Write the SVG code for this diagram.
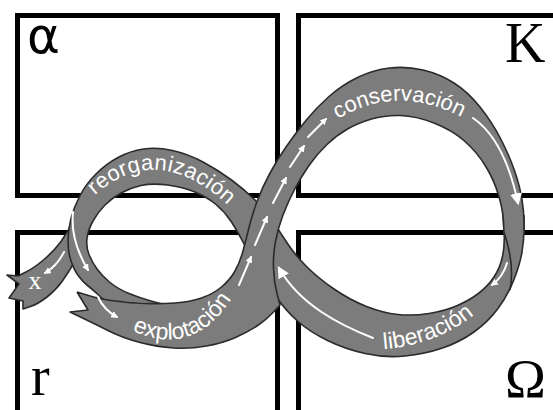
<svg xmlns="http://www.w3.org/2000/svg" width="553" height="410" viewBox="0 0 553 410">
<style>
.box{fill:none;stroke:#000;stroke-width:5}
.band{fill:#7c7c7c}
.edge{fill:none;stroke:#2b2b2b;stroke-width:1.6;stroke-linejoin:round}
.arr{fill:none;stroke:#fff;stroke-width:2;stroke-linecap:round}
.lbl{font-family:"Liberation Sans",Arial,sans-serif;fill:#fff}
.big{font-family:"Liberation Serif","Times New Roman",serif;fill:#000;font-size:56px}
</style>
<defs>
<marker id="ah" viewBox="0 0 10 10" refX="8" refY="5" markerWidth="7" markerHeight="7" markerUnits="userSpaceOnUse" orient="auto"><path d="M0,0 L10,5 L0,10 z" fill="#fff"/></marker>
<marker id="ahb" viewBox="0 0 10 10" refX="8" refY="5" markerWidth="12" markerHeight="12" markerUnits="userSpaceOnUse" orient="auto"><path d="M0,0 L10,5 L0,10 z" fill="#fff"/></marker>
<path id="tp-cons" d="M325,128 Q395,75 475,125"/>
<path id="tp-reorg" d="M85,205 Q155,130 238,215"/>
<path id="tp-expl" d="M115,320 C165,355 215,345 245,272"/>
<path id="tp-lib" d="M370,350 Q445,348 490,300"/>
</defs>

<g id="box-alpha"><rect class="box" x="17.5" y="15.5" width="260" height="180"/><text x="27" y="53" font-family="DejaVu Sans,sans-serif" font-size="50" fill="#000">α</text></g>
<g id="box-K"><rect class="box" x="298.5" y="15.5" width="270" height="180"/><text class="big" x="505" y="62">K</text></g>
<g id="box-r"><rect class="box" x="17.5" y="232.5" width="260" height="200"/><text class="big" x="31" y="395">r</text></g>
<g id="box-omega"><rect class="box" x="298.5" y="232.5" width="270" height="200"/><text class="big" x="505" y="397" style="font-size:55px">Ω</text></g>

<g id="cycle">
<path id="exit-x" class="band" stroke="#2b2b2b" stroke-width="1.6" stroke-linejoin="round" d="M78,210 L73,221 Q68,232 61,241.5 Q54,251 44,259.5 Q34,268 26,272 L18,276 L7,275 L19,284 L9,298 L23,301 L23,309 L30.5,306.5 Q38,304 47,297 Q56,290 62,281.5 Q68,273 73,264.5 L78,256 Z"/>
<path class="band" d="M503,215 L504,230 Q505,245 502.5,256.5 Q500,268 494,277 Q488,286 479,293 Q470,300 457.5,305.5 Q445,311 429,313.5 Q413,316 398,314.5 Q383,313 366.5,306.5 Q350,300 334,289 Q318,278 306.5,266.5 Q295,255 287.5,243.5 Q280,232 272.5,221 Q265,210 255,200 Q245,190 231.5,180 Q218,170 203,162 Q188,154 172.5,150.5 Q157,147 143.5,149 Q130,151 118,157.5 Q106,164 96,174 Q86,184 80,195.5 Q74,207 71,218.5 Q68,230 68,241 Q68,252 71,261 Q74,270 78.5,276 Q83,282 87.5,285.5 Q92,289 98,294.5 L104,300 L162,304 L151,301 Q140,298 129,293.5 Q118,289 110,282.5 Q102,276 97,269 Q92,262 89,254.5 Q86,247 87,238.5 Q88,230 93,221 Q98,212 105,205 Q112,198 121,193 Q130,188 141,185.5 Q152,183 167.5,185 Q183,187 195,192 Q207,197 216,204.5 Q225,212 231.5,222 Q238,232 243,242 Q248,252 256.5,266 Q265,280 275,295 Q285,310 297.5,321 Q310,332 327.5,340.5 Q345,349 365,353.5 Q385,358 405,356 Q425,354 442.5,348 Q460,342 474,332 Q488,322 498,308.5 Q508,295 514,279.5 Q520,264 522,252 Q524,240 524,227.5 L524,215 Z"/>
<path class="edge" d="M503,215 L504,230 Q505,245 502.5,256.5 Q500,268 494,277 Q488,286 479,293 Q470,300 457.5,305.5 Q445,311 429,313.5 Q413,316 398,314.5 Q383,313 366.5,306.5 Q350,300 334,289 Q318,278 306.5,266.5 Q295,255 287.5,243.5 Q280,232 272.5,221 Q265,210 255,200 Q245,190 231.5,180 Q218,170 203,162 Q188,154 172.5,150.5 Q157,147 143.5,149 Q130,151 118,157.5 Q106,164 96,174 Q86,184 80,195.5 Q74,207 71,218.5 Q68,230 68,241 Q68,252 71,261 Q74,270 78.5,276 Q83,282 87.5,285.5 Q92,289 98,294.5 L104,300 M524,215 L524,227.5 Q524,240 522,252 Q520,264 514,279.5 Q508,295 498,308.5 Q488,322 474,332 Q460,342 442.5,348 Q425,354 405,356 Q385,358 365,353.5 Q345,349 327.5,340.5 Q310,332 297.5,321 Q285,310 275,295 Q265,280 256.5,266 Q248,252 243,242 Q238,232 231.5,222 Q225,212 216,204.5 Q207,197 195,192 Q183,187 167.5,185 Q152,183 141,185.5 Q130,188 121,193 Q112,198 105,205 Q98,212 93,221 Q88,230 87,238.5 Q86,247 89,254.5 Q92,262 97,269 Q102,276 110,282.5 Q118,289 129,293.5 Q140,298 151,301 L162,304"/>
<path class="band" d="M77,292 L88.5,295.5 Q100,299 115,301 Q130,303 145,303.5 Q160,304 175,303 Q190,302 201.5,298 Q213,294 221.5,287 Q230,280 235,271 Q240,262 243,251 Q246,240 249,227.5 Q252,215 257,201.5 Q262,188 269.5,174 Q277,160 286,147 Q295,134 305.5,121 Q316,108 329,96.5 Q342,85 357.5,77.5 Q373,70 389.5,68 Q406,66 423,70 Q440,74 454,83 Q468,92 480,107 Q492,122 501,139.5 Q510,157 515,172 Q520,187 522,199.5 Q524,212 524,223 L524,234 L504,234 L503.5,222 Q503,210 498.5,195 Q494,180 485.5,166 Q477,152 464.5,141 Q452,130 434,123 Q416,116 400.5,115.5 Q385,115 371.5,119 Q358,123 347.5,129 Q337,135 327,144.5 Q317,154 309,165.5 Q301,177 294.5,189.5 Q288,202 283,215 Q278,228 275.5,241.5 Q273,255 273.5,268.5 Q274,282 277,293.5 L280,305 L273,312.5 Q266,320 257,326 Q248,332 235.5,337.5 Q223,343 206.5,346 Q190,349 173.5,348 Q157,347 140,342.5 Q123,338 109,331 Q95,324 82.5,318 L70,312 L88,310 Z"/>
<path class="edge" d="M77,292 L88.5,295.5 Q100,299 115,301 Q130,303 145,303.5 Q160,304 175,303 Q190,302 201.5,298 Q213,294 221.5,287 Q230,280 235,271 Q240,262 243,251 Q246,240 249,227.5 Q252,215 257,201.5 Q262,188 269.5,174 Q277,160 286,147 Q295,134 305.5,121 Q316,108 329,96.5 Q342,85 357.5,77.5 Q373,70 389.5,68 Q406,66 423,70 Q440,74 454,83 Q468,92 480,107 Q492,122 501,139.5 Q510,157 515,172 Q520,187 522,199.5 Q524,212 524,223 L524,234 M504,234 L503.5,222 Q503,210 498.5,195 Q494,180 485.5,166 Q477,152 464.5,141 Q452,130 434,123 Q416,116 400.5,115.5 Q385,115 371.5,119 Q358,123 347.5,129 Q337,135 327,144.5 Q317,154 309,165.5 Q301,177 294.5,189.5 Q288,202 283,215 Q278,228 275.5,241.5 Q273,255 273.5,268.5 Q274,282 277,293.5 L280,305 L273,312.5 Q266,320 257,326 Q248,332 235.5,337.5 Q223,343 206.5,346 Q190,349 173.5,348 Q157,347 140,342.5 Q123,338 109,331 Q95,324 82.5,318 L70,312 L88,310 L77,292"/>
<path class="edge" d="M504,232 C510,250 514,270 510,290"/>

<g id="arrows">
<path class="arr" marker-end="url(#ah)" d="M239,285 L251,257"/>
<path class="arr" marker-end="url(#ah)" d="M255,245 L267,217"/>
<path class="arr" marker-end="url(#ah)" d="M273,203 L286,178"/>
<path class="arr" marker-end="url(#ah)" d="M290,167 L304,146"/>
<path class="arr" marker-end="url(#ah)" d="M308,137 L326,119"/>
<path class="arr" marker-end="url(#ahb)" d="M473,118 Q504.5,139.5 518,203"/>
<path class="arr" marker-end="url(#ah)" d="M507,263 Q503,277 492,285"/>
<path class="arr" marker-end="url(#ahb)" d="M373,338 C340,325 300,305 279,268"/>
<path class="arr" marker-end="url(#ah)" d="M73,212 Q70,240 88,270"/>
<path class="arr" marker-end="url(#ah)" d="M64,252 Q57,266 45,273"/>
<path class="arr" marker-end="url(#ah)" d="M98,297 Q104,310 117,317"/>
</g>

<g id="labels">
<text class="lbl" font-size="22"><textPath href="#tp-cons" startOffset="50%" text-anchor="middle">conservación</textPath></text>
<text class="lbl" font-size="22" letter-spacing="0.4"><textPath href="#tp-reorg" startOffset="50%" text-anchor="middle">reorganización</textPath></text>
<text class="lbl" font-size="23"><textPath href="#tp-expl" startOffset="47%" text-anchor="middle">explotación</textPath></text>
<text class="lbl" font-size="23"><textPath href="#tp-lib" startOffset="47%" text-anchor="middle">liberación</textPath></text>
<text x="35" y="289" text-anchor="middle" font-family="Liberation Serif,serif" font-size="26" fill="#fff">x</text>
</g>
</g>
</svg>
